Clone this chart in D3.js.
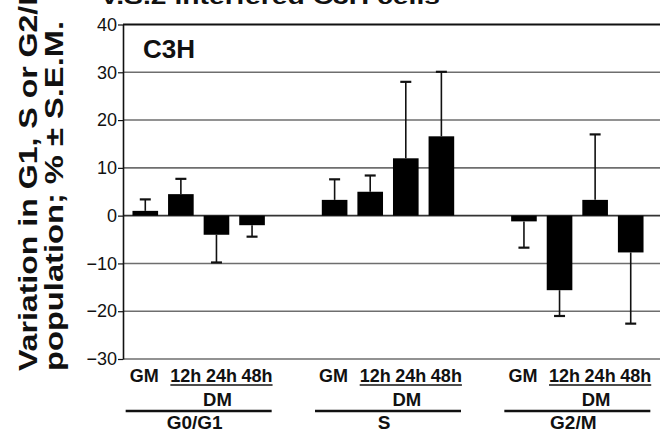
<!DOCTYPE html>
<html>
<head>
<meta charset="utf-8">
<script src="https://cdn.jsdelivr.net/npm/d3@7"></script>
<style>
  body { margin: 0; background: #fff; }
  svg { display: block; font-family: "Liberation Sans", Arial, Helvetica, sans-serif; }
  .tick text { font-size: 18px; fill: #111; }
  .grid line { stroke: #6e6e6e; stroke-width: 1.6; }
  .lbl { font-weight: bold; fill: #111; text-anchor: middle; }
</style>
</head>
<body>
<svg width="660" height="434"></svg>
<script>
// values (% variation, one-sided S.E.M.)
const groups = ['G0/G1', 'S', 'G2/M'];
const conditions = ['GM', '12h', '24h', '48h'];
const g0g1Values = [1.0, 4.5, -4.0, -2.0];
const g0g1Errors = [2.4, 3.2, 5.8, 2.4];
const sValues = [3.3, 5.0, 12.0, 16.6];
const sErrors = [4.3, 3.4, 16.0, 13.5];
const g2mValues = [-1.2, -15.6, 3.3, -7.7];
const g2mErrors = [5.5, 5.4, 13.7, 14.9];
const yTicks = [-30, -20, -10, 0, 10, 20, 30, 40];

const seriesValues = [g0g1Values, sValues, g2mValues];
const seriesErrors = [g0g1Errors, sErrors, g2mErrors];

const data = [];
groups.forEach((g, gi) => {
  conditions.forEach((c, ci) => {
    data.push({group: g, cond: c, value: seriesValues[gi][ci], err: seriesErrors[gi][ci]});
  });
});

const svg = d3.select('svg');
const axisX = 123;
const plotRight = 660;

const y = d3.scaleLinear()
            .domain([-30, 40])
            .range([359, 24.5]);

const x0 = d3.scaleBand()
             .domain(groups)
             .range([104, 672]);

const x1 = d3.scaleBand()
             .domain(conditions)
             .range([0, x0.bandwidth()])
             .paddingInner(0.28)
             .paddingOuter(0.8);

const barX = d => x0(d.group) + x1(d.cond);
const barMid = d => barX(d) + x1.bandwidth() / 2;

// horizontal gridlines
svg.append('g')
   .attr('class', 'grid')
   .selectAll('line')
   .data(yTicks)
   .enter()
   .append('line')
   .attr('x1', axisX)
   .attr('x2', plotRight)
   .attr('y1', d => y(d))
   .attr('y2', d => y(d))
   .style('stroke', d => d === 40 ? '#111' : (d === 0 ? '#333' : null))
   .style('stroke-width', d => d === 40 ? 2 : null);

// y axis
const yAxis = svg.append('g')
   .attr('transform', `translate(${axisX},0)`)
   .call(d3.axisLeft(y).tickValues(yTicks).tickSize(5).tickSizeOuter(0).tickPadding(1));
yAxis.select('.domain').attr('stroke', '#111').attr('stroke-width', 1.6);
yAxis.selectAll('.tick line').attr('stroke', '#111').attr('stroke-width', 1.2);

// bars
svg.append('g')
   .selectAll('rect')
   .data(data)
   .enter()
   .append('rect')
   .attr('x', barX)
   .attr('width', x1.bandwidth())
   .attr('y', d => y(Math.max(0, d.value)))
   .attr('height', d => Math.abs(y(d.value) - y(0)))
   .attr('fill', '#000');

// error bars (one sided, away from zero)
const errEnd = d => d.value + (d.value >= 0 ? d.err : -d.err);
const eb = svg.append('g').attr('stroke', '#111');
eb.selectAll('line.stem')
  .data(data)
  .enter()
  .append('line')
  .attr('class', 'stem')
  .attr('x1', barMid).attr('x2', barMid)
  .attr('y1', d => y(d.value))
  .attr('y2', d => y(errEnd(d)))
  .attr('stroke-width', 1.6);
eb.selectAll('line.cap')
  .data(data)
  .enter()
  .append('line')
  .attr('class', 'cap')
  .attr('x1', d => barMid(d) - 5.5).attr('x2', d => barMid(d) + 5.5)
  .attr('y1', d => y(errEnd(d)))
  .attr('y2', d => y(errEnd(d)))
  .attr('stroke-width', 2.2);

// category labels under the plot
const labels = svg.append('g');
groups.forEach(g => {
  const rows = data.filter(d => d.group === g);
  const texts = rows.map(d =>
    labels.append('text')
          .attr('class', 'lbl')
          .attr('x', barMid(d) + (d.cond === 'GM' ? -1 : 5))
          .attr('y', 382)
          .style('font-size', '18px')
          .text(d.cond));
  const b1 = texts[1].node().getBBox();
  const b3 = texts[3].node().getBBox();
  const ux1 = b1.x, ux2 = b3.x + b3.width;
  labels.append('line')
        .attr('x1', ux1).attr('x2', ux2)
        .attr('y1', 385).attr('y2', 385)
        .attr('stroke', '#111').attr('stroke-width', 1.5);
  labels.append('text')
        .attr('class', 'lbl')
        .attr('x', (ux1 + ux2) / 2 - 4)
        .attr('y', 406)
        .style('font-size', '18.5px')
        .text('DM');
  const cx = x0(g) + x0.bandwidth() / 2;
  labels.append('line')
        .attr('x1', cx - 73).attr('x2', cx + 73)
        .attr('y1', 411).attr('y2', 411)
        .attr('stroke', '#111').attr('stroke-width', 2.6);
  labels.append('text')
        .attr('class', 'lbl')
        .attr('x', cx - 4)
        .attr('y', 429)
        .style('font-size', '19px')
        .text(g);
});

// panel label
svg.append('text')
   .attr('x', 143)
   .attr('y', 58)
   .style('font-size', '26px')
   .style('font-weight', 'bold')
   .attr('fill', '#111')
   .text('C3H');

// y axis title, two lines
svg.append('text')
   .attr('transform', 'translate(37,371) rotate(-90)')
   .style('font-size', '26px')
   .style('font-weight', 'bold')
   .attr('fill', '#111')
   .attr('textLength', 392)
   .attr('lengthAdjust', 'spacingAndGlyphs')
   .text('Variation in G1, S or G2/M');
svg.append('text')
   .attr('transform', 'translate(63,371) rotate(-90)')
   .style('font-size', '26px')
   .style('font-weight', 'bold')
   .attr('fill', '#111')
   .attr('textLength', 350)
   .attr('lengthAdjust', 'spacingAndGlyphs')
   .text('population; % ± S.E.M.');

// figure title, mostly clipped at the top edge
svg.append('text')
   .attr('x', 100)
   .attr('y', 4)
   .style('font-size', '22px')
   .style('font-weight', 'bold')
   .attr('fill', '#111')
   .attr('textLength', 340)
   .attr('lengthAdjust', 'spacingAndGlyphs')
   .text('V.S.2 interfered C3H cells');
</script>
</body>
</html>
